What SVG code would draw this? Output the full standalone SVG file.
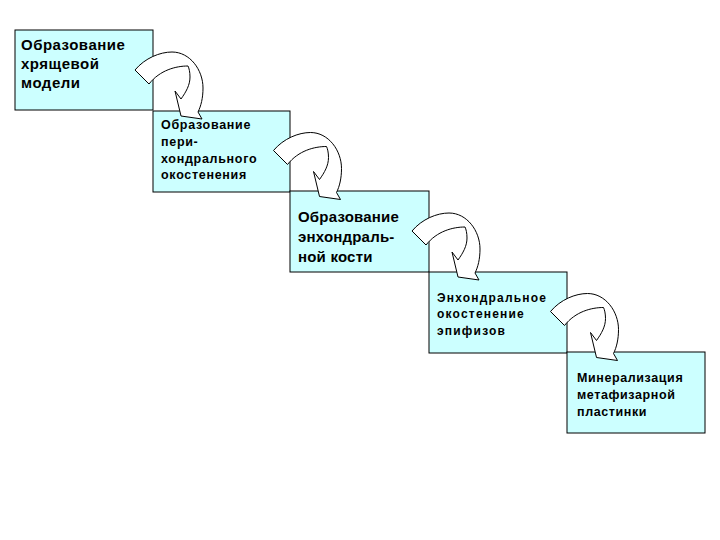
<svg xmlns="http://www.w3.org/2000/svg" xmlns:xlink="http://www.w3.org/1999/xlink" width="720" height="540" viewBox="0 0 720 540">
<style>
.box{fill:#CCFFFF;stroke:#000;stroke-width:1}
.t{font-family:"Liberation Sans",Arial,sans-serif;font-weight:bold;fill:#000}
.arr{fill:#fff;stroke:#000;stroke-width:1;stroke-linejoin:round}
</style>
<defs>
<path id="ca" d="M135,70 C145,58 160,52 172,52 C190,52 203,70 203,88 C203,98 201,106 198,112 L202,119 L181,116 L175,91 L181,99 C186,92 190,85 190,77 C190,72 189,68 188,66 C176,66 160,70 149,84 Z"/>
</defs>
<rect width="720" height="540" fill="#fff"/>
<g id="n1">
<rect class="box" x="15" y="30" width="138" height="80"/>
<text class="t" font-size="15" letter-spacing="0.5"><tspan x="21" y="50">Образование</tspan><tspan x="21" y="69">хрящевой</tspan><tspan x="21" y="88">модели</tspan></text>
</g>
<g id="n2">
<rect class="box" x="153" y="111" width="137" height="81"/>
<text class="t" font-size="12.5" letter-spacing="0.7"><tspan x="161" y="129">Образование</tspan><tspan x="161" y="146">пери-</tspan><tspan x="161" y="163">хондрального</tspan><tspan x="161" y="179">окостенения</tspan></text>
</g>
<g id="n3">
<rect class="box" x="290" y="191" width="139" height="81"/>
<text class="t" font-size="15" letter-spacing="0.2"><tspan x="298" y="222">Образование</tspan><tspan x="298" y="242">энхондраль-</tspan><tspan x="298" y="262">ной кости</tspan></text>
</g>
<g id="n4">
<rect class="box" x="429" y="272" width="138" height="81"/>
<text class="t" font-size="12" letter-spacing="1.2"><tspan x="437" y="302">Энхондральное</tspan><tspan x="437" y="318">окостенение</tspan><tspan x="437" y="335">эпифизов</tspan></text>
</g>
<g id="n5">
<rect class="box" x="567" y="352" width="138" height="81"/>
<text class="t" font-size="12.5" letter-spacing="0.6"><tspan x="577" y="382">Минерализация</tspan><tspan x="577" y="399">метафизарной</tspan><tspan x="577" y="416">пластинки</tspan></text>
</g>
<g id="connectors">
<use xlink:href="#ca" class="arr"/>
<use xlink:href="#ca" class="arr" transform="translate(138.5,80.5)"/>
<use xlink:href="#ca" class="arr" transform="translate(277,161)"/>
<use xlink:href="#ca" class="arr" transform="translate(415.5,241.5)"/>
</g>
</svg>
